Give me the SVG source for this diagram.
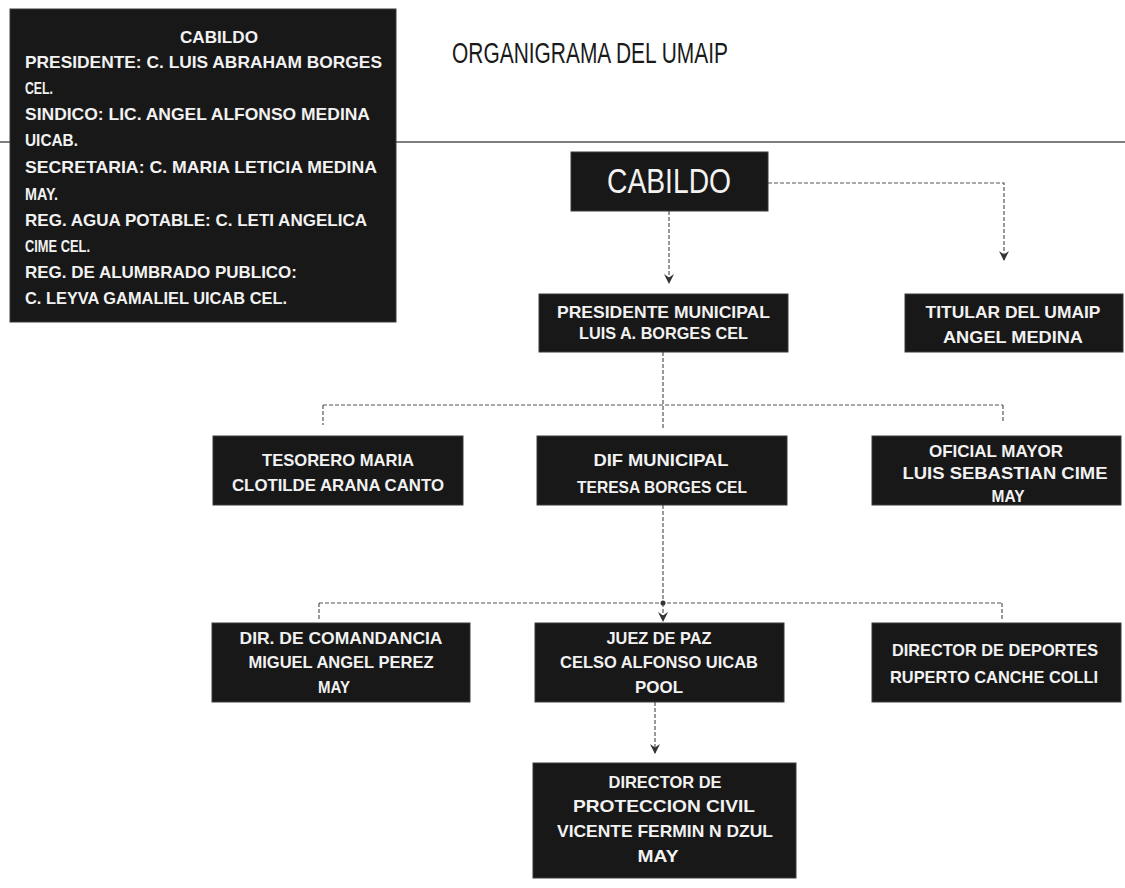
<svg xmlns="http://www.w3.org/2000/svg" width="1125" height="888" viewBox="0 0 1125 888">
<style>
.box{fill:#181818;stroke:#3a3a3a;stroke-width:1}
.t{font-family:"Liberation Sans",Arial,sans-serif;font-weight:bold;font-size:16.5px;fill:#f2f2f2;text-anchor:middle}
.tl{font-family:"Liberation Sans",Arial,sans-serif;font-weight:bold;font-size:16.5px;fill:#f2f2f2}
.c{fill:none;stroke:#555;stroke-width:1.2;stroke-dasharray:4 2}
</style>
<defs>
<marker id="arr" markerUnits="userSpaceOnUse" markerWidth="10" markerHeight="10" refX="9" refY="5" orient="auto" viewBox="0 0 10 10">
<path d="M0,0 L10,5 L0,10 L3.5,5 Z" fill="#333"/>
</marker>
</defs>
<rect width="1125" height="888" fill="#fff"/>
<line x1="0" y1="142" x2="1125" y2="142" stroke="#555" stroke-width="1.5"/>
<text x="452" y="63" font-family="'Liberation Sans',Arial,sans-serif" font-size="30" fill="#1a1a1a" textLength="276" lengthAdjust="spacingAndGlyphs">ORGANIGRAMA DEL UMAIP</text>

<g id="cabildo-info">
<rect class="box" x="10" y="9" width="386" height="313"/>
<text class="t" x="219" y="43" textLength="78" lengthAdjust="spacingAndGlyphs">CABILDO</text>
<text class="tl" x="25" y="68" textLength="357" lengthAdjust="spacingAndGlyphs">PRESIDENTE: C. LUIS ABRAHAM BORGES</text>
<text class="tl" x="25" y="94" textLength="28" lengthAdjust="spacingAndGlyphs">CEL.</text>
<text class="tl" x="25" y="120" textLength="345" lengthAdjust="spacingAndGlyphs">SINDICO: LIC. ANGEL ALFONSO MEDINA</text>
<text class="tl" x="25" y="146" textLength="53" lengthAdjust="spacingAndGlyphs">UICAB.</text>
<text class="tl" x="25" y="173" textLength="352" lengthAdjust="spacingAndGlyphs">SECRETARIA: C. MARIA LETICIA MEDINA</text>
<text class="tl" x="25" y="200" textLength="33" lengthAdjust="spacingAndGlyphs">MAY.</text>
<text class="tl" x="25" y="226" textLength="342" lengthAdjust="spacingAndGlyphs">REG. AGUA POTABLE: C. LETI ANGELICA</text>
<text class="tl" x="25" y="252" textLength="65" lengthAdjust="spacingAndGlyphs">CIME CEL.</text>
<text class="tl" x="25" y="278" textLength="272" lengthAdjust="spacingAndGlyphs">REG. DE ALUMBRADO PUBLICO:</text>
<text class="tl" x="25" y="304" textLength="262" lengthAdjust="spacingAndGlyphs">C. LEYVA GAMALIEL UICAB CEL.</text>
</g>

<g id="connectors">
<path class="c" d="M669,211 V283" marker-end="url(#arr)"/>
<path class="c" d="M768,183 H1004 V260" marker-end="url(#arr)"/>
<path class="c" d="M663,352 V430"/>
<path class="c" d="M323,405 H1003"/>
<path class="c" d="M323,405 V425"/>
<path class="c" d="M1003,405 V423"/>
<path class="c" d="M663,505 V603"/>
<path class="c" d="M319,603 H1002"/>
<path class="c" d="M319,603 V620"/>
<path class="c" d="M1002,603 V620"/>
<path class="c" d="M663,603 V621" marker-end="url(#arr)"/>
<circle cx="663" cy="603" r="2.5" fill="#333"/>
<path class="c" d="M655,702 V753" marker-end="url(#arr)"/>
</g>

<g id="cabildo">
<rect class="box" x="571" y="152" width="197" height="59"/>
<text class="t" x="669" y="193" textLength="124" lengthAdjust="spacingAndGlyphs" style="font-size:35px;font-weight:normal">CABILDO</text>
</g>

<g id="presidente">
<rect class="box" x="539" y="294" width="249" height="58"/>
<text class="t" x="663.5" y="318" textLength="213" lengthAdjust="spacingAndGlyphs">PRESIDENTE MUNICIPAL</text>
<text class="t" x="663.5" y="339" textLength="169" lengthAdjust="spacingAndGlyphs">LUIS A. BORGES CEL</text>
</g>

<g id="titular">
<rect class="box" x="905" y="294" width="218" height="58"/>
<text class="t" x="1013" y="318" textLength="175" lengthAdjust="spacingAndGlyphs">TITULAR DEL UMAIP</text>
<text class="t" x="1013" y="343" textLength="140" lengthAdjust="spacingAndGlyphs">ANGEL MEDINA</text>
</g>

<g id="tesorero">
<rect class="box" x="213" y="436" width="250" height="69"/>
<text class="t" x="338" y="466" textLength="152" lengthAdjust="spacingAndGlyphs">TESORERO MARIA</text>
<text class="t" x="338" y="491" textLength="212" lengthAdjust="spacingAndGlyphs">CLOTILDE ARANA CANTO</text>
</g>

<g id="dif">
<rect class="box" x="537" y="436" width="250" height="69"/>
<text class="t" x="661" y="466" textLength="135" lengthAdjust="spacingAndGlyphs">DIF MUNICIPAL</text>
<text class="t" x="662" y="493" textLength="170" lengthAdjust="spacingAndGlyphs">TERESA BORGES CEL</text>
</g>

<g id="oficial">
<rect class="box" x="872" y="436" width="249" height="69"/>
<text class="t" x="996" y="457" textLength="134" lengthAdjust="spacingAndGlyphs">OFICIAL MAYOR</text>
<text class="t" x="1005" y="479" textLength="205" lengthAdjust="spacingAndGlyphs">LUIS SEBASTIAN CIME</text>
<text class="t" x="1008" y="502" textLength="33" lengthAdjust="spacingAndGlyphs">MAY</text>
</g>

<g id="comandancia">
<rect class="box" x="212" y="623" width="258" height="79"/>
<text class="t" x="341" y="644" textLength="203" lengthAdjust="spacingAndGlyphs">DIR. DE COMANDANCIA</text>
<text class="t" x="341" y="668" textLength="185" lengthAdjust="spacingAndGlyphs">MIGUEL ANGEL PEREZ</text>
<text class="t" x="334" y="693" textLength="32" lengthAdjust="spacingAndGlyphs">MAY</text>
</g>

<g id="juez">
<rect class="box" x="535" y="623" width="249" height="79"/>
<text class="t" x="659" y="644" textLength="105" lengthAdjust="spacingAndGlyphs">JUEZ DE PAZ</text>
<text class="t" x="659" y="668" textLength="198" lengthAdjust="spacingAndGlyphs">CELSO ALFONSO UICAB</text>
<text class="t" x="659" y="693" textLength="48" lengthAdjust="spacingAndGlyphs">POOL</text>
</g>

<g id="deportes">
<rect class="box" x="872" y="623" width="249" height="79"/>
<text class="t" x="995" y="656" textLength="206" lengthAdjust="spacingAndGlyphs">DIRECTOR DE DEPORTES</text>
<text class="t" x="994" y="683" textLength="208" lengthAdjust="spacingAndGlyphs">RUPERTO CANCHE COLLI</text>
</g>

<g id="proteccion">
<rect class="box" x="533" y="763" width="263" height="115"/>
<text class="t" x="665" y="788" textLength="113" lengthAdjust="spacingAndGlyphs">DIRECTOR DE</text>
<text class="t" x="664" y="812" textLength="182" lengthAdjust="spacingAndGlyphs">PROTECCION CIVIL</text>
<text class="t" x="665" y="837" textLength="216" lengthAdjust="spacingAndGlyphs">VICENTE FERMIN N DZUL</text>
<text class="t" x="658" y="862" textLength="41" lengthAdjust="spacingAndGlyphs">MAY</text>
</g>
</svg>
